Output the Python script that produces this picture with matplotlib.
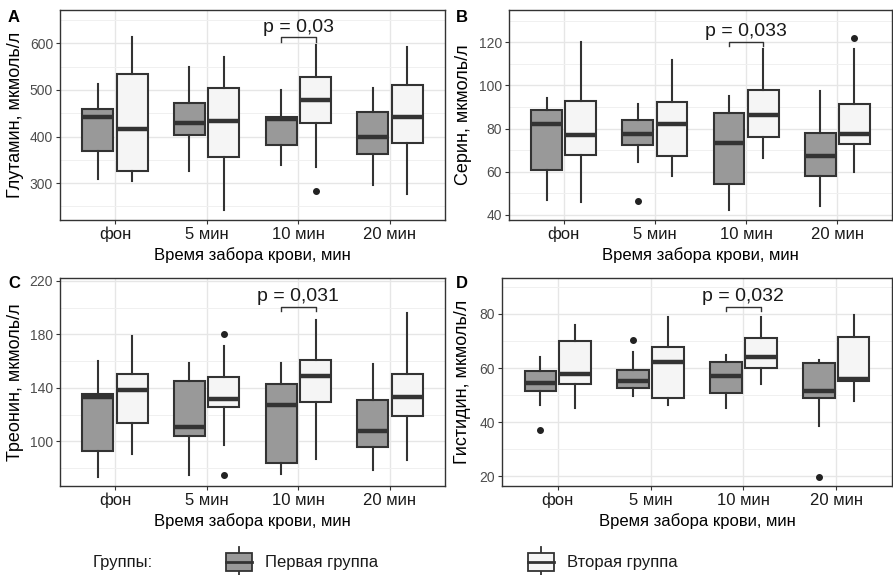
import matplotlib
matplotlib.use("Agg")
import matplotlib.pyplot as plt
from matplotlib.patches import Rectangle

plt.rcParams['font.family'] = ['Liberation Sans', 'DejaVu Sans']

W, H = 893, 575

categories = ['фон', '5 мин', '10 мин', '20 мин']
xlabel = 'Время забора крови, мин'
group_names = ['Первая группа', 'Вторая группа']
legend_title = 'Группы:'

# each box: [lower whisker, Q1, median, Q3, upper whisker]
glu_g1 = [[309, 369, 441, 460, 512], [326, 403, 428, 473, 550],
          [338, 382, 437, 441, 500], [295, 362, 399, 452, 505]]
glu_g2 = [[304, 327, 417, 534, 613], [242, 357, 433, 505, 570],
          [334, 429, 478, 527, 596], [277, 387, 442, 510, 593]]
glu_out1 = [[], [], [], []]
glu_out2 = [[], [], [282], []]

ser_g1 = [[47, 61, 82.3, 88.8, 94.4], [64.5, 72.6, 77.7, 83.9, 91.6],
          [42.3, 54.4, 73.3, 87.4, 95.3], [44.3, 58, 67.4, 78.1, 97.5]]
ser_g2 = [[45.9, 67.9, 76.9, 92.9, 120], [57.8, 67.1, 82.2, 92.4, 111.8],
          [66.5, 76.1, 86.4, 98.1, 116.9], [59.8, 73, 77.4, 91.6, 116.7]]
ser_out1 = [[], [46.4], [], []]
ser_out2 = [[], [], [], [121.9]]

thr_g1 = [[73.6, 92.8, 133, 135.5, 159.7], [74.9, 104.3, 110.5, 145.2, 158.2],
          [75.6, 83.6, 127, 143.2, 158.2], [78.4, 96, 107.8, 131.2, 157.7]]
thr_g2 = [[90.3, 113.8, 138.7, 150.7, 178.9], [97, 125.5, 131.7, 147.9, 171.6],
          [86.8, 129.2, 149.2, 160.9, 190.8], [86.1, 119, 133.2, 150.7, 195.8]]
thr_out1 = [[], [], [], []]
thr_out2 = [[], [180.6, 74.4], [], []]

his_g1 = [[46.2, 51.4, 54.3, 58.8, 64.1], [49.5, 52.5, 55.2, 59.3, 65.8],
          [45.2, 50.9, 57.2, 62.1, 64.9], [38.6, 48.8, 51.4, 61.9, 62.8]]
his_g2 = [[45.2, 54.1, 57.9, 69.9, 76], [46.2, 48.8, 62.2, 67.9, 78.8],
          [54.2, 59.9, 64, 71, 78.8], [47.9, 55.1, 56, 71.6, 79.5]]
his_out1 = [[37], [70.2], [], [19.8]]
his_out2 = [[], [], [], []]

ylabels = ['Глутамин, мкмоль/л', 'Серин, мкмоль/л',
           'Треонин, мкмоль/л', 'Гистидин, мкмоль/л']
p_labels = ['p = 0,03', 'p = 0,033', 'p = 0,031', 'p = 0,032']
p_heights = [613, 120.3, 200.8, 82.6]
letters = ['A', 'B', 'C', 'D']

fill1 = '#999999'
fill2 = '#F5F5F5'
dark = '#333333'
dodge = 0.1875
box_w = 0.3375

fig = plt.figure(figsize=(W / 100, H / 100), dpi=100)


def px_axes(l, t, r, b):
    return fig.add_axes([l / W, 1 - b / H, (r - l) / W, (b - t) / H])


def to_stats(rows, outs):
    return [dict(whislo=r[0], q1=r[1], med=r[2], q3=r[3], whishi=r[4], fliers=o)
            for r, o in zip(rows, outs)]


def panel(ax, g1, g2, o1, o2, ylab, ylim, yticks, yminor, ptxt, py, ylab_x, xlab_y):
    xs = list(range(1, len(categories) + 1))
    for rows, outs, fc, sh in [(g1, o1, fill1, -dodge), (g2, o2, fill2, dodge)]:
        ax.bxp(to_stats(rows, outs), positions=[x + sh for x in xs], widths=box_w,
               patch_artist=True, showcaps=False, manage_ticks=False,
               boxprops=dict(facecolor=fc, edgecolor=dark, linewidth=1.5),
               medianprops=dict(color=dark, linewidth=3.2, solid_capstyle='butt'),
               whiskerprops=dict(color=dark, linewidth=1.5),
               flierprops=dict(marker='o', markerfacecolor='#222222',
                               markeredgecolor='#222222', markersize=4))
    ax.set_xlim(0.4, 4.6)
    ax.set_ylim(*ylim)
    ax.set_xticks(xs)
    ax.set_xticklabels(categories, fontsize=12, color='#1a1a1a')
    ax.set_yticks(yticks)
    ax.set_yticklabels([str(t) for t in yticks], fontsize=10, color='#4D4D4D')
    ax.set_yticks(yminor, minor=True)
    ax.tick_params(axis='both', which='major', length=3, width=0.8, color=dark, pad=2)
    ax.tick_params(axis='y', which='minor', length=0)
    ax.grid(True, which='major', color='#E6E6E6', linewidth=1.0, zorder=0)
    ax.grid(True, which='minor', axis='y', color='#F0F0F0', linewidth=0.7, zorder=0)
    ax.set_axisbelow(True)
    for s in ax.spines.values():
        s.set_color(dark)
        s.set_linewidth(1.0)
    ax.set_ylabel(ylab, fontsize=13)
    ax.set_xlabel(xlabel, fontsize=12)
    ax.yaxis.set_label_coords(ylab_x, 0.5)
    ax.xaxis.set_label_coords(0.5, xlab_y)

    # significance bracket over the 10 min pair
    x = 3
    d = 0.02 * (ylim[1] - ylim[0])
    ax.plot([x - dodge, x - dodge, x + dodge, x + dodge], [py - d, py, py, py - d],
            color=dark, linewidth=1.0)
    ax.annotate(ptxt, (x, py), xytext=(0, 4), textcoords='offset points',
                ha='center', va='baseline', fontsize=14, color='#1a1a1a')


boxes = [(60, 10, 445, 220), (509, 10, 892, 220), (60, 278, 445, 486), (502, 278, 892, 486)]
data = [(glu_g1, glu_g2, glu_out1, glu_out2), (ser_g1, ser_g2, ser_out1, ser_out2),
        (thr_g1, thr_g2, thr_out1, thr_out2), (his_g1, his_g2, his_out1, his_out2)]
ylims = [(220.8, 671.7), (37.6, 135), (66.5, 222.2), (16.4, 93.3)]
yticks = [[300, 400, 500, 600], [40, 60, 80, 100, 120], [100, 140, 180, 220], [20, 40, 60, 80]]
yminor = [[250, 350, 450, 550, 650], [50, 70, 90, 110, 130], [80, 120, 160, 200], [30, 50, 70, 90]]
ylab_px = [24, 472, 24, 471]
letter_px = [(8, 17), (456, 17), (8, 284), (456, 284)]

for i, (l, t, r, b) in enumerate(boxes):
    ax = px_axes(l, t, r, b)
    g1, g2, o1, o2 = data[i]
    panel(ax, g1, g2, o1, o2, ylabels[i], ylims[i], yticks[i], yminor[i],
          p_labels[i], p_heights[i], (ylab_px[i] - l) / (r - l), -27 / (b - t))
    fig.text(letter_px[i][0] / W, 1 - letter_px[i][1] / H, letters[i],
             fontsize=12, fontweight='bold', ha='left', va='center')

# legend row drawn in pixel coordinates
lg = px_axes(0, 540, W, 575)
lg.set_xlim(0, W)
lg.set_ylim(575, 540)
lg.axis('off')
lg.text(93, 563, legend_title, fontsize=12, ha='left', va='center', color='#1a1a1a')
for x0, fc, name in [(226, fill1, group_names[0]), (528, fill2, group_names[1])]:
    lg.plot([x0 + 13, x0 + 13], [547, 575], color=dark, linewidth=1.3, clip_on=False)
    lg.add_patch(Rectangle((x0, 553), 26, 18, facecolor=fc, edgecolor=dark,
                           linewidth=1.3, zorder=3))
    lg.plot([x0, x0 + 26], [562, 562], color=dark, linewidth=2, zorder=4)
    lg.text(x0 + 39, 563, name, fontsize=12, ha='left', va='center', color='#1a1a1a')

fig.savefig('out.png', dpi=100)
